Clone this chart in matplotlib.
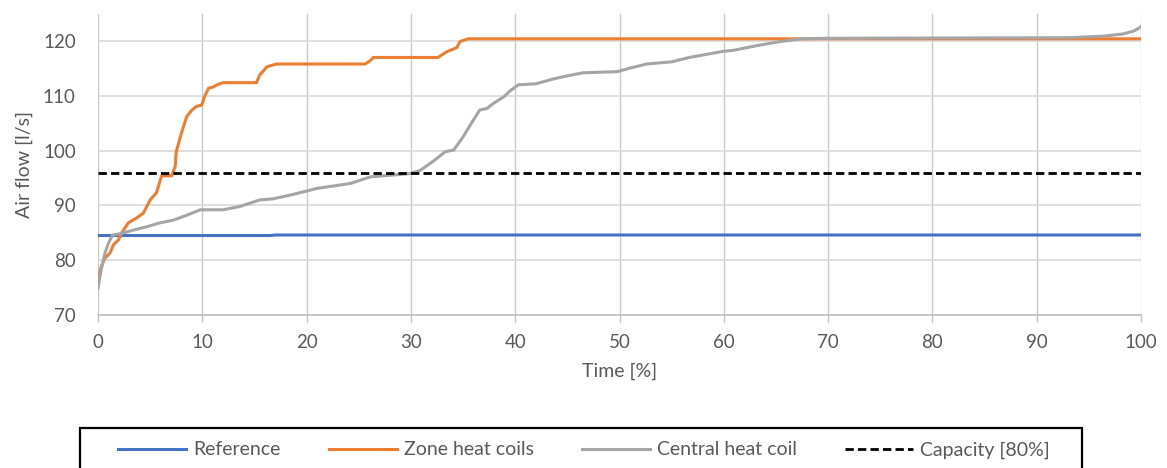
import matplotlib
import matplotlib.pyplot as plt
from matplotlib.patches import Rectangle

matplotlib.use("Agg")

# values (time in %, air flow in l/s)
ref_time = [0, 16.5, 17, 100]
ref_flow = [84.5, 84.5, 84.6, 84.6]

zone_time = [0, 0.3, 0.67, 1.15, 1.47, 1.95, 2.27, 2.9, 3.7, 4.35, 5.0, 5.6, 6.1,
             7.07, 7.4, 7.5, 8.0, 8.5, 9.0, 9.46, 9.94, 10.2, 10.6, 11.05, 11.4,
             12.0, 15.2, 15.5, 16.2, 17.1, 25.6, 26.1, 26.4, 32.6, 33.4, 34.4,
             34.7, 35.5, 100]
zone_flow = [76.1, 78.8, 80.4, 81.3, 82.8, 83.7, 85.0, 86.8, 87.7, 88.6, 91.0, 92.3, 95.4,
             95.4, 97.1, 99.8, 103.2, 106.2, 107.4, 108.1, 108.3, 109.8, 111.4, 111.6, 112.0,
             112.4, 112.4, 113.8, 115.3, 115.8, 115.8, 116.4, 117.0, 117.0, 118.0, 118.8,
             119.9, 120.4, 120.4]

central_time = [0, 0.3, 0.67, 1.0, 1.4, 2.27, 3.4, 4.67, 5.9, 7.2, 8.5, 9.8, 12.0,
                13.6, 15.5, 16.8, 18.7, 21.0, 24.2, 26.1, 29.9, 30.9, 32.1, 33.3,
                34.1, 35.0, 35.8, 36.6, 37.3, 37.9, 38.9, 39.5, 40.3, 42.0, 43.7,
                44.9, 46.5, 48.1, 49.8, 50.9, 52.6, 55.0, 56.7, 59.9, 60.9, 63.3,
                65.4, 67.5, 70.0, 93.1, 96.5, 98.3, 99.3, 100]
central_flow = [74.9, 78.2, 81.3, 83.1, 84.6, 84.9, 85.5, 86.1, 86.8, 87.3, 88.2, 89.2, 89.2,
                89.8, 91.0, 91.2, 92.0, 93.1, 94.0, 95.2, 95.8, 96.4, 98.0, 99.8,
                100.1, 102.5, 105.0, 107.4, 107.7, 108.6, 109.8, 110.9, 112.0, 112.2, 113.1,
                113.6, 114.2, 114.3, 114.4, 115.0, 115.8, 116.2, 117.0, 118.1, 118.3, 119.2,
                119.9, 120.4, 120.5, 120.6, 120.9, 121.3, 121.8, 122.6]

capacity = 96.0

x_ticks = list(range(0, 101, 10))
y_ticks = list(range(70, 121, 10))

plt.rcParams["font.family"] = ["Lato", "DejaVu Sans"]

W, H = 1167, 468
fig = plt.figure(figsize=(W / 100, H / 100), dpi=100)
ax = fig.add_axes([98 / W, 1 - 315 / H, (1141 - 98) / W, (315 - 13.6) / H])

ax.plot(ref_time, ref_flow, color="#4472C4", lw=2.2, label="Reference", solid_joinstyle="round")
ax.plot(zone_time, zone_flow, color="#ED7D31", lw=2.2, label="Zone heat coils", solid_joinstyle="round")
ax.plot(central_time, central_flow, color="#A5A5A5", lw=2.2, label="Central heat coil", solid_joinstyle="round")
ax.plot([0, 100], [capacity, capacity], color="black", lw=2.0, ls=(0, (3, 1.5)), label="Capacity [80%]")

ax.set_xlim(0, 100)
ax.set_ylim(70, 125)
ax.set_xticks(x_ticks)
ax.set_yticks(y_ticks)

ax.grid(axis="y", color="#d9d9d9", lw=1.2)
ax.grid(axis="x", color="#c8c8c8", lw=1.0)
ax.set_axisbelow(True)
for side in ("top", "right", "left"):
    ax.spines[side].set_visible(False)
ax.spines["bottom"].set_color("#bfbfbf")
ax.spines["bottom"].set_linewidth(1.2)

ax.tick_params(axis="x", length=5, color="#bfbfbf", width=1.0, pad=9, labelsize=13.5, labelcolor="#595959")
ax.tick_params(axis="y", length=0, pad=16, labelsize=13.5, labelcolor="#595959")

ax.set_xlabel("Time [%]", fontsize=14, color="#595959", labelpad=8)
ax.set_ylabel("Air flow [l/s]", fontsize=14, color="#595959", labelpad=7)

# legend box runs past the bottom edge of the image
fig.patches.append(Rectangle((80 / W, -0.05), (1082 - 80) / W, 1 - 428 / H + 0.05,
                             transform=fig.transFigure, fill=False, edgecolor="black", lw=1.6))
leg = fig.legend(loc="center left", bbox_to_anchor=(118 / W, 1 - 450 / H, (1050 - 118) / W, 0),
                 mode="expand", ncol=4, fontsize=14, frameon=False,
                 handlelength=3.5, handletextpad=0.35, borderpad=0, borderaxespad=0)
for text in leg.get_texts():
    text.set_color("#595959")

fig.savefig("out.png", dpi=100)
